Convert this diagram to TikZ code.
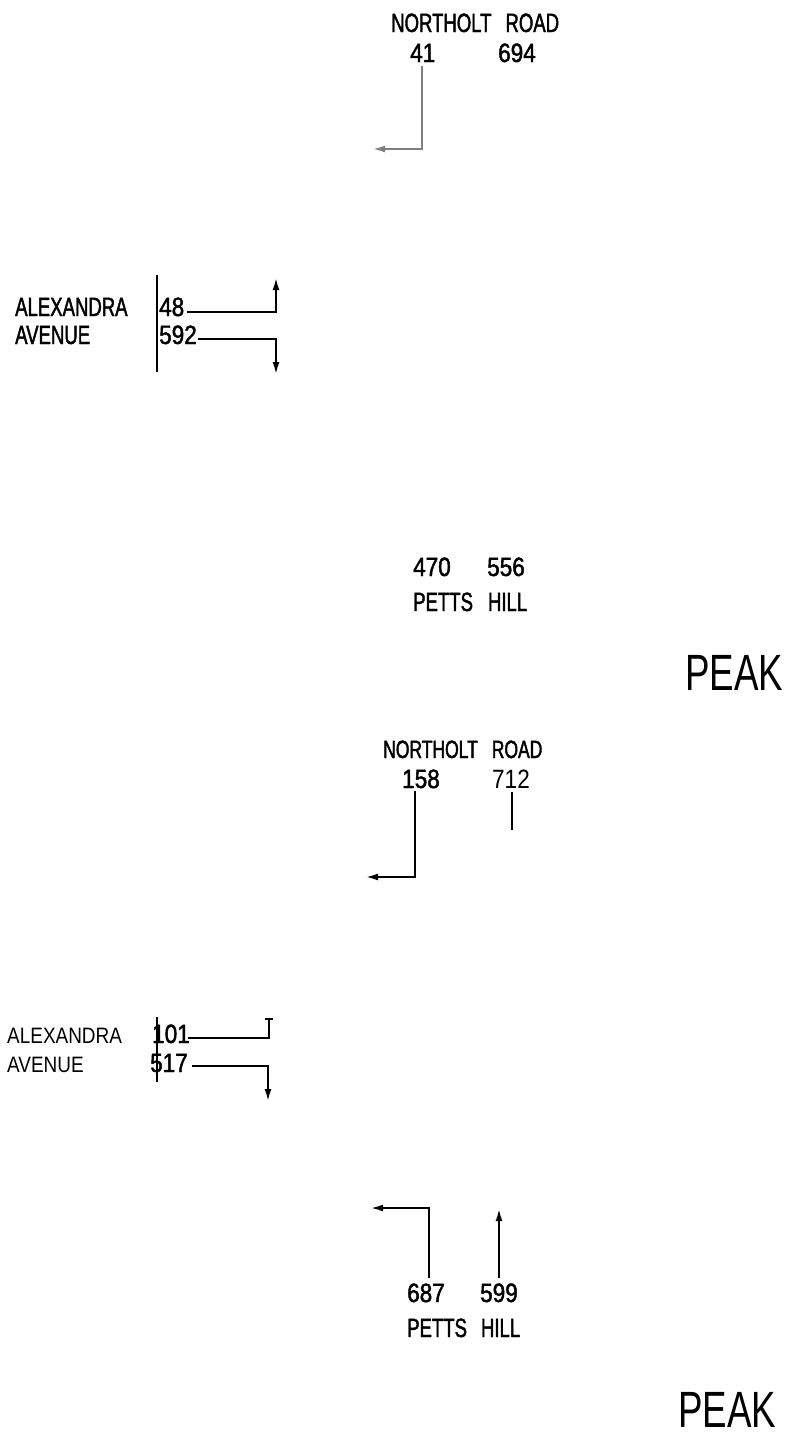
\documentclass[tikz,border=0pt]{standalone}
\usepackage{fontspec}
\setmainfont{Liberation Sans}
\newfontfamily\labA{Liberation Sans}[FakeStretch=0.70,FakeBold=1.6]
\newfontfamily\numA{Liberation Sans}[FakeStretch=0.85,FakeBold=1.6]
\newfontfamily\numT{Liberation Sans}[FakeStretch=0.85]
\newfontfamily\labB{Liberation Sans}[FakeStretch=0.85]
\newfontfamily\peakf{Liberation Sans}[FakeStretch=0.72]
\usetikzlibrary{arrows.meta}
\tikzset{
  lab/.style={anchor=base west, inner sep=0pt, font={\labA\fontsize{26.5pt}{28pt}\selectfont}},
  labsm/.style={anchor=base west, inner sep=0pt, font={\labA\fontsize{25pt}{27pt}\selectfont}},
  labthin/.style={anchor=base west, inner sep=0pt, font={\labB\fontsize{22.3pt}{24pt}\selectfont}},
  num/.style={anchor=base west, inner sep=0pt, font={\numA\fontsize{26.5pt}{28pt}\selectfont}},
  numthin/.style={anchor=base west, inner sep=0pt, font={\numT\fontsize{26.5pt}{28pt}\selectfont}},
  peak/.style={anchor=base west, inner sep=0pt, font={\peakf\fontsize{51pt}{53pt}\selectfont}},
  conn/.style={line width=1.8pt, line join=miter},
  sep/.style={line width=1.1pt},
  arr/.style={-{Latex[length=12pt,width=7pt]}},
  bararr/.style={-{Bar[width=8pt,line width=1.5pt]}}
}
\begin{document}
\begin{tikzpicture}[x=1pt,y=-1pt]
\useasboundingbox (0,0) rectangle (787,1436);

% ---------- upper diagram ----------
\node[lab] (nr1) at (391,32) {NORTHOLT\hspace{14pt}ROAD};
\node[num] (n41) at (410,62) {41};
\node[num] (n694) at (498,62) {694};
\coordinate (c41a) at (422,66);
\coordinate (c41b) at (422,149);
\coordinate (c41e) at (373,149);
\draw[conn,arr,black!50] (c41a) -- (c41b) -- (c41e);

\node[lab] (al1) at (15,316) {ALEXANDRA};
\node[lab] (av1) at (15,344) {AVENUE};
\node[num] (n48) at (159,316) {48};
\node[num] (n592) at (159,344) {592};
\coordinate (s1t) at (157,275);
\coordinate (s1b) at (157,372);
\draw[sep] (s1t) -- (s1b);
\coordinate (c48a) at (187,312);
\coordinate (c48b) at (276,312);
\coordinate (c48e) at (276,278);
\draw[conn,arr] (c48a) -- (c48b) -- (c48e);
\coordinate (c592a) at (198,339);
\coordinate (c592b) at (276,339);
\coordinate (c592e) at (276,374);
\draw[conn,arr] (c592a) -- (c592b) -- (c592e);

\node[num] (n470) at (413,576) {470};
\node[num] (n556) at (487,576) {556};
\node[lab] (ph1) at (413,611) {PETTS\hspace{15pt}HILL};

\node[peak] (pk1) at (685,690) {PEAK};

% ---------- lower diagram ----------
\node[labsm] (nr2) at (383,758) {NORTHOLT\hspace{14pt}ROAD};
\node[num] (n158) at (402,788) {158};
\node[numthin] (n712) at (492,788) {712};
\coordinate (c158a) at (415,791);
\coordinate (c158b) at (415,877);
\coordinate (c158e) at (366,877);
\draw[conn,arr] (c158a) -- (c158b) -- (c158e);
\coordinate (c712a) at (512,792);
\coordinate (c712b) at (512,830);
\draw[conn] (c712a) -- (c712b);

\node[labthin] (al2) at (7,1043) {ALEXANDRA};
\node[labthin] (av2) at (7,1072) {AVENUE};
\node[num] (n101) at (152,1043) {101};
\node[num] (n517) at (150,1072) {517};
\coordinate (s2t) at (157,1017);
\coordinate (s2b) at (157,1082);
\draw[sep] (s2t) -- (s2b);
\coordinate (c101a) at (188,1038);
\coordinate (c101b) at (269,1038);
\coordinate (c101e) at (269,1018);
\draw[conn,bararr] (c101a) -- (c101b) -- (c101e);
\coordinate (c517a) at (192,1066);
\coordinate (c517b) at (268,1066);
\coordinate (c517e) at (268,1101);
\draw[conn,arr] (c517a) -- (c517b) -- (c517e);

\coordinate (c687a) at (429,1278);
\coordinate (c687b) at (429,1208);
\coordinate (c687e) at (371,1208);
\draw[conn,arr] (c687a) -- (c687b) -- (c687e);
\coordinate (c599a) at (499,1278);
\coordinate (c599e) at (499,1209);
\draw[conn,arr] (c599a) -- (c599e);
\node[num] (n687) at (407,1302) {687};
\node[num] (n599) at (480,1302) {599};
\node[lab] (ph2) at (407,1337) {PETTS\hspace{14pt}HILL};

\node[peak] (pk2) at (678,1427) {PEAK};
\end{tikzpicture}
\end{document}
